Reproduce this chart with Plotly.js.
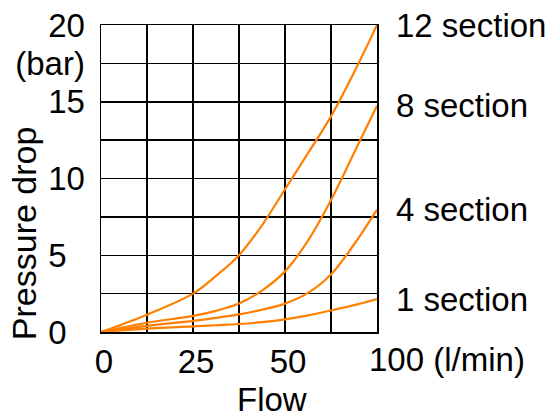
<!DOCTYPE html>
<html>
<head>
<meta charset="utf-8">
<script src="https://cdn.plot.ly/plotly-3.0.1.min.js"></script>
<style>html,body{margin:0;padding:0;background:#fff;}#chart{width:551px;height:419px;}</style>
</head>
<body>
<div id="chart"></div>
<script>
// Axis positions of the flow samples (axis 0..75 is labelled 0, 25, 50, 100)
const flowPos = [0, 12.5, 25, 31.25, 37.5, 43.75, 50, 56.25, 62.5, 68.75, 75];
const seriesNames = ["12 section", "8 section", "4 section", "1 section"];
const drop12 = [0, 1.13, 2.5, 3.65, 5.0, 6.95, 9.3, 11.65, 14.05, 16.9, 20.0];
const drop8  = [0, 0.6, 1.05, 1.38, 1.85, 2.7, 3.95, 5.95, 8.6, 11.66, 14.74];
const drop4  = [0, 0.4, 0.72, 0.92, 1.15, 1.45, 1.85, 2.55, 3.75, 5.7, 7.97];
const drop1  = [0, 0.22, 0.36, 0.44, 0.52, 0.64, 0.82, 1.08, 1.4, 1.75, 2.15];
const xTickVals = [0, 12.5, 25, 37.5, 50, 62.5, 75];
const xTickText = ["0", "", "25", "", "50", "", ""];
const yTickVals = [0, 2.5, 5, 7.5, 10, 12.5, 15, 17.5, 20];
const yTickText = ["0\u2007", "", "5\u2007", "", "10", "", "15", "(bar)", "20"];
const xLastLabel = "100 (l/min)";
const xTitle = "Flow";
const yTitle = "Pressure drop";

const allDrops = [drop12, drop8, drop4, drop1];
const ORANGE = "#FF8000";
const FONT = "Liberation Sans, Arial, sans-serif";
const FS = 33;

const traces = allDrops.map((d, i) => ({
  x: flowPos, y: d, type: "scatter", mode: "lines", name: seriesNames[i],
  line: {color: ORANGE, width: 2.2, shape: "spline", smoothing: 1},
  hoverinfo: "skip"
}));

const annotations = allDrops.map((d, i) => ({
  text: seriesNames[i], xref: "paper", x: 1.062, xanchor: "left",
  yref: "y", y: d[d.length - 1], yanchor: "middle", showarrow: false,
  font: {family: FONT, size: FS, color: "#000"}
}));
annotations.push({
  text: xLastLabel, xref: "paper", x: 0.962, xanchor: "left",
  yref: "paper", y: -0.088, yanchor: "middle", showarrow: false,
  font: {family: FONT, size: FS, color: "#000"}
});
annotations.push({
  text: xTitle, xref: "paper", x: 0.62, xanchor: "center",
  yref: "paper", y: -0.221, yanchor: "middle", showarrow: false,
  font: {family: FONT, size: FS, color: "#000"}
});
annotations.push({
  text: yTitle, xref: "paper", x: -0.279, xanchor: "center",
  yref: "paper", y: 0.322, yanchor: "middle", showarrow: false, textangle: -90,
  font: {family: FONT, size: 34, color: "#000"}
});

const layout = {
  width: 551, height: 419,
  margin: {l: 101, r: 174, t: 25, b: 87},
  paper_bgcolor: "#fff", plot_bgcolor: "#fff",
  showlegend: false,
  font: {family: FONT, size: FS, color: "#000"},
  xaxis: {
    range: [0, 75], tickmode: "array", tickvals: xTickVals, ticktext: xTickText,
    showgrid: true, gridcolor: "#000", gridwidth: 1.5, zeroline: false,
    showline: true, mirror: true, linecolor: "#000", linewidth: 1.5,
    ticks: "", ticklabelshift: 3, ticklabelstandoff: 0,
    tickfont: {family: FONT, size: FS, color: "#000"}
  },
  yaxis: {
    range: [0, 20], tickmode: "array", tickvals: yTickVals, ticktext: yTickText,
    showgrid: true, gridcolor: "#000", gridwidth: 1.5, zeroline: false,
    showline: true, mirror: true, linecolor: "#000", linewidth: 1.5,
    ticks: "", ticklabelstandoff: 8,
    tickfont: {family: FONT, size: FS, color: "#000"}
  },
  annotations: annotations
};

Plotly.newPlot("chart", traces, layout, {displayModeBar: false, staticPlot: true});
</script>
</body>
</html>
